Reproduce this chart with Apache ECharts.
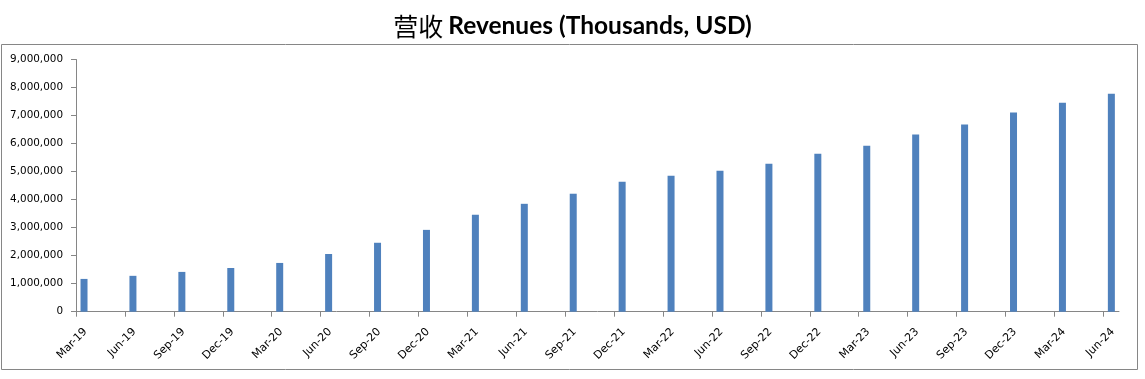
<!DOCTYPE html>
<html>
<head>
<meta charset="utf-8">
<script src="https://cdn.jsdelivr.net/npm/echarts@6/dist/echarts.min.js"></script>
<style>html,body{margin:0;padding:0;background:#fff;}#c{width:1145px;height:379px;}</style>
</head>
<body>
<div id="c"></div>
<script>
const categories = ['Mar-19','Jun-19','Sep-19','Dec-19','Mar-20','Jun-20','Sep-20','Dec-20','Mar-21','Jun-21','Sep-21','Dec-21','Mar-22','Jun-22','Sep-22','Dec-22','Mar-23','Jun-23','Sep-23','Dec-23','Mar-24','Jun-24'];
const revenues = [1170000,1280000,1420000,1560000,1740000,2060000,2460000,2920000,3460000,3850000,4210000,4640000,4850000,5030000,5280000,5640000,5920000,6320000,6680000,7110000,7460000,7780000];
const yTicks = [0,1000000,2000000,3000000,4000000,5000000,6000000,7000000,8000000,9000000];
const titleCn = '营收';
const titleEn = 'Revenues (Thousands, USD)';

const chart = echarts.init(document.getElementById('c'), null, {renderer: 'canvas'});
const idx = categories.map((c, i) => i);
const fmt = v => String(v).replace(/\B(?=(\d{3})+(?!\d))/g, ',');
const axisGray = '#868686';

chart.setOption({
  animation: false,
  backgroundColor: '#fff',
  title: {
    text: '{c|' + titleCn + '} {l|' + titleEn + '}',
    left: 'center',
    top: 9,
    textStyle: {
      rich: {
        c: {fontFamily: 'Noto Sans CJK SC', fontSize: 25, fontWeight: 'normal', color: '#000'},
        l: {fontFamily: 'Lato', fontSize: 24.5, fontWeight: 'bold', color: '#000'}
      }
    }
  },
  graphic: [{
    type: 'rect',
    shape: {x: 1.5, y: 44.5, width: 1136, height: 325},
    style: {fill: 'none', stroke: axisGray, lineWidth: 1},
    silent: true
  }],
  grid: {left: 76, right: 26, top: 59.5, bottom: 67.3, containLabel: false},
  xAxis: {
    type: 'value',
    min: 0,
    max: categories.length - 1 + 0.32,
    axisLine: {show: true, lineStyle: {color: axisGray, width: 1}},
    axisTick: {show: true, length: 5, customValues: idx, lineStyle: {color: axisGray}},
    splitLine: {show: false},
    axisLabel: {
      customValues: idx,
      rotate: 45,
      margin: 6,
      verticalAlign: 'top',
      padding: [10, 2, 0, 0],
      fontFamily: 'DejaVu Sans',
      fontSize: 11,
      color: '#000',
      formatter: v => categories[Math.round(v)] || ''
    }
  },
  yAxis: {
    type: 'value',
    min: 0,
    max: yTicks[yTicks.length - 1],
    interval: yTicks[1] - yTicks[0],
    axisLine: {show: true, lineStyle: {color: axisGray, width: 1}},
    axisTick: {show: true, length: 5, lineStyle: {color: axisGray}},
    splitLine: {show: false},
    axisLabel: {
      margin: 13,
      fontFamily: 'DejaVu Sans',
      fontSize: 10.4,
      color: '#000',
      formatter: v => fmt(v)
    }
  },
  series: [
    {
      type: 'bar',
      name: 'spacer',
      barWidth: 7,
      barGap: '129%',
      data: idx.map(i => [i, null]),
      silent: true
    },
    {
      type: 'bar',
      name: 'Revenues',
      barWidth: 7,
      barGap: '129%',
      itemStyle: {color: '#4F81BD'},
      data: idx.map(i => [i, revenues[i]])
    }
  ]
});
</script>
</body>
</html>
